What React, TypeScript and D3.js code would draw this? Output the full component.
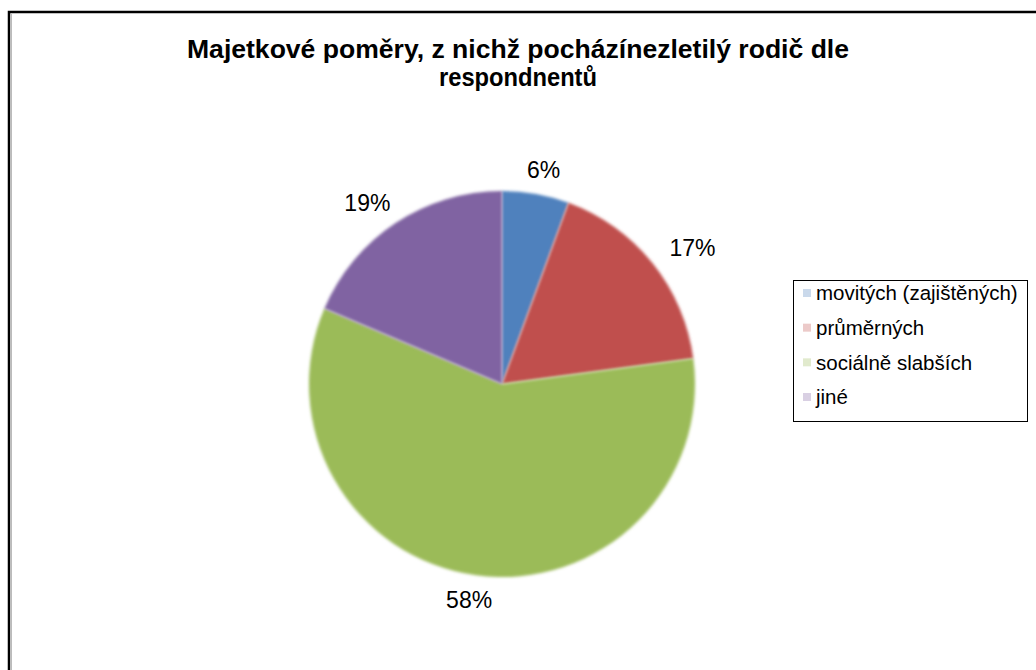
import React, { useRef, useEffect } from 'react';
import * as d3 from 'd3';

// ─── data ───
const categories = ['movitých (zajištěných)', 'průměrných', 'sociálně slabších', 'jiné'];
const shares = [5.6, 17.3, 58.5, 18.6];
const labels = ['6%', '17%', '58%', '19%'];
const colors = ['#4f81bd', '#c0504d', '#9bbb59', '#8064a2'];
const titleLines = ['Majetkové poměry, z nichž pocházínezletilý rodič dle', 'respondnentů'];

const W = 1036;
const H = 670;
const FONT = 'Liberation Sans, Arial, sans-serif';

export default function App() {
  const svgRef = useRef<SVGSVGElement>(null);

  useEffect(() => {
    if (!svgRef.current) return;
    const svg = d3.select(svgRef.current);
    svg.selectAll('*').remove();

    const defs = svg.append('defs');
    defs.append('filter')
      .attr('id', 'soft')
      .attr('x', '-10%').attr('y', '-10%')
      .attr('width', '120%').attr('height', '120%')
      .append('feGaussianBlur')
      .attr('stdDeviation', 1.8);

    svg.append('rect')
      .attr('width', W).attr('height', H).attr('fill', '#fff');

    // outer frame (runs off right/bottom edge)
    svg.append('rect')
      .attr('x', 9).attr('y', 12)
      .attr('width', W + 20).attr('height', H + 20)
      .attr('fill', 'none').attr('stroke', '#000').attr('stroke-width', 2.5);
    svg.append('line')
      .attr('x1', 11.5).attr('x2', 11.5).attr('y1', 14).attr('y2', H)
      .attr('stroke', '#bbb').attr('stroke-width', 1);

    // title
    const titleWidths = [662, 158];
    titleLines.forEach((t, i) => {
      svg.append('text')
        .attr('x', 518).attr('y', 58 + i * 28)
        .attr('text-anchor', 'middle')
        .attr('font-family', FONT).attr('font-size', 25).attr('font-weight', 'bold')
        .attr('textLength', titleWidths[i])
        .attr('lengthAdjust', 'spacingAndGlyphs')
        .attr('fill', '#000')
        .text(t);
    });

    // pie
    const cx = 502, cy = 384, r = 193;
    const pie = d3.pie<number>().sort(null).value(d => d);
    const arcs = pie(shares);
    const arc = d3.arc<d3.PieArcDatum<number>>().innerRadius(0).outerRadius(r);
    const g = svg.append('g').attr('transform', `translate(${cx},${cy})`);

    g.selectAll('path.slice')
      .data(arcs)
      .enter()
      .append('path')
      .attr('class', 'slice')
      .attr('d', arc)
      .attr('fill', (_, i) => colors[i])
      .attr('filter', 'url(#soft)');

    // outside-end labels: text box pushed out along the mid angle
    const labelR = r + 16;
    const lbls = g.selectAll<SVGTextElement, d3.PieArcDatum<number>>('text.lbl')
      .data(arcs)
      .enter()
      .append('text')
      .attr('class', 'lbl')
      .attr('text-anchor', 'middle')
      .attr('dy', '0.35em')
      .attr('font-family', FONT).attr('font-size', 23)
      .attr('fill', '#000')
      .text((_, i) => labels[i]);
    lbls.each(function (d) {
      const a = (d.startAngle + d.endAngle) / 2;
      const s = Math.sin(a), c = Math.cos(a);
      const w = this.getComputedTextLength();
      const h = 17;
      const x = (labelR + 12) * s + s * w / 2;
      const y = -labelR * c - c * h / 2;
      d3.select(this).attr('transform', `translate(${x},${y})`);
    });

    // legend
    const lg = svg.append('g').attr('transform', 'translate(793,280)');
    lg.append('rect')
      .attr('x', 0.5).attr('y', 0.5).attr('width', 234).attr('height', 141)
      .attr('fill', '#fff').attr('stroke', '#000').attr('stroke-width', 1);
    const row = d3.scalePoint<number>().domain(d3.range(categories.length)).range([13, 117]);
    categories.forEach((c, i) => {
      const y = row(i) ?? 0;
      lg.append('rect')
        .attr('x', 10).attr('y', y - 4).attr('width', 8).attr('height', 8)
        .attr('fill', colors[i]).attr('opacity', 0.3);
      lg.append('text')
        .attr('x', 23).attr('y', y)
        .attr('dy', '0.35em')
        .attr('font-family', FONT).attr('font-size', 20.5)
        .attr('fill', '#000')
        .text(c);
    });
  }, []);

  return (
    <svg
      ref={svgRef}
      width={W}
      height={H}
      style={{ position: 'absolute', left: 0, top: 0, display: 'block' }}
    />
  );
}
